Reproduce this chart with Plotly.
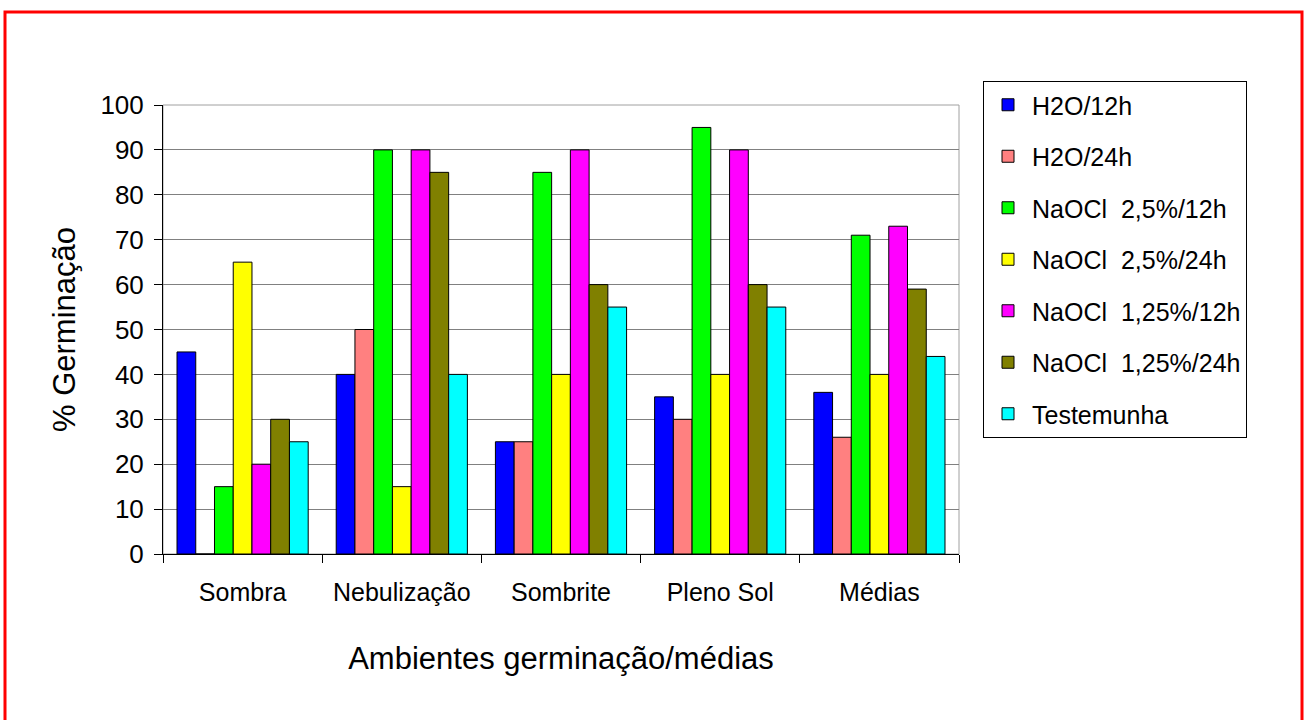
import plotly.graph_objects as go

categories = ["Sombra", "Nebulização", "Sombrite", "Pleno Sol", "Médias"]
series_names = [
    "H2O/12h",
    "H2O/24h",
    "NaOCl\u00a0\u00a02,5%/12h",
    "NaOCl\u00a0\u00a02,5%/24h",
    "NaOCl\u00a0\u00a01,25%/12h",
    "NaOCl\u00a0\u00a01,25%/24h",
    "Testemunha",
]
h2o_12h = [45, 40, 25, 35, 36]
h2o_24h = [0, 50, 25, 30, 26]
naocl25_12h = [15, 90, 85, 95, 71]
naocl25_24h = [65, 15, 40, 40, 40]
naocl125_12h = [20, 90, 90, 90, 73]
naocl125_24h = [30, 85, 60, 60, 59]
testemunha = [25, 40, 55, 55, 44]
series_values = [h2o_12h, h2o_24h, naocl25_12h, naocl25_24h,
                 naocl125_12h, naocl125_24h, testemunha]
colors = ["#0000FF", "#FF8080", "#00FF00", "#FFFF00", "#FF00FF", "#808000", "#00FFFF"]
y_ticks = [0, 10, 20, 30, 40, 50, 60, 70, 80, 90, 100]

FONT = "Liberation Sans, Arial, sans-serif"

fig = go.Figure()
for i, (name, vals, col) in enumerate(zip(series_names, series_values, colors)):
    fig.add_trace(go.Bar(
        x=categories, y=vals, name=name,
        marker=dict(color=col, line=dict(color="black", width=1)),
        legendgroup=f"g{i}",
    ))

W, H = 1305, 720
L, R, T, B = 163, 959, 105, 554

fig.update_layout(
    width=W, height=H,
    margin=dict(l=L, r=W - R, t=T, b=H - B, autoexpand=False),
    paper_bgcolor="white", plot_bgcolor="white",
    barmode="group", bargap=0.176, bargroupgap=0,
    font=dict(family=FONT, color="black", size=22),
    showlegend=True,
    legend=dict(
        x=(983 - L) / (R - L), xanchor="left",
        y=1 + (T - 81) / (B - T), yanchor="top",
        bordercolor="black", borderwidth=1,
        bgcolor="white",
        font=dict(family=FONT, size=25, color="black"),
        traceorder="grouped", tracegroupgap=16,
        itemwidth=38, maxheight=600,
    ),
    xaxis=dict(
        type="category",
        showline=True, linecolor="black", linewidth=1,
        ticks="outside", tickson="boundaries", ticklen=8, tickcolor="black",
        tickfont=dict(size=25), ticklabelstandoff=16,
        title=dict(text="Ambientes germinação/médias", font=dict(size=31), standoff=42),
        mirror=False,
    ),
    yaxis=dict(
        range=[0, 100], tickvals=y_ticks,
        showline=True, linecolor="black", linewidth=1,
        ticks="outside", ticklen=8, tickcolor="black",
        showgrid=True, gridcolor="#808080", gridwidth=1,
        tickfont=dict(size=26), ticklabelstandoff=5,
        title=dict(text="% Germinação", font=dict(size=31), standoff=15),
        zeroline=False,
    ),
)

# plot area border (top/right, gray)
fig.add_shape(type="rect", xref="paper", yref="paper", x0=0, x1=1, y0=0, y1=1,
              line=dict(color="#A0A0A0", width=1), layer="below")
# red chart border
fig.add_shape(type="rect", xref="paper", yref="paper",
              x0=(5 - L) / (R - L), x1=(1302 - L) / (R - L),
              y0=(B - 730) / (B - T), y1=(B - 12) / (B - T),
              line=dict(color="#FF0000", width=3))

fig.write_html("out.html", config={"displayModeBar": False},
               post_script="document.body.style.margin='0';")
